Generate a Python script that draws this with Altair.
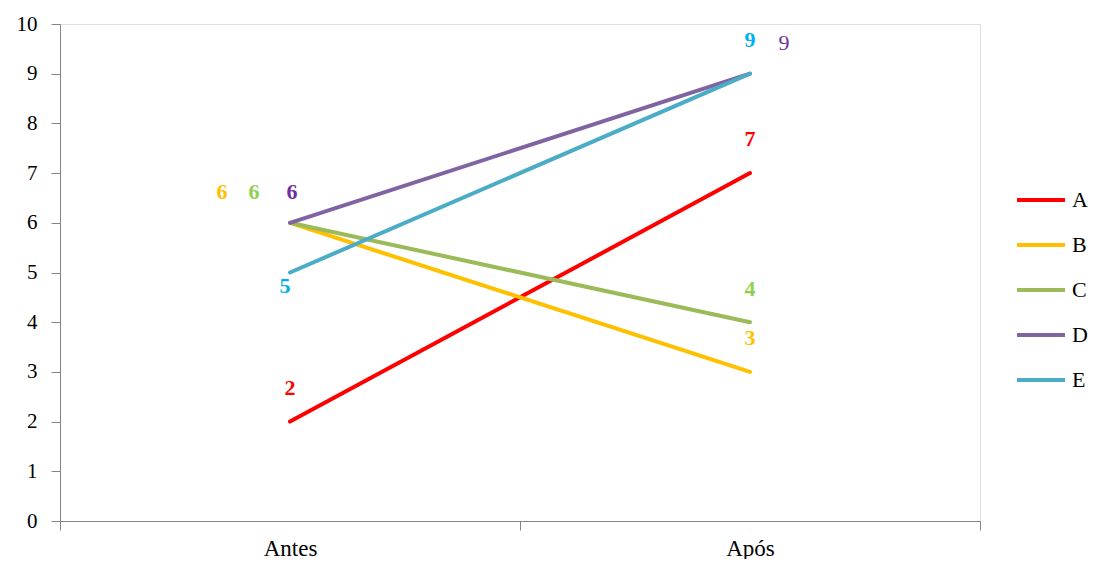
import altair as alt
import pandas as pd

series = ["A", "B", "C", "D", "E"]
categories = ["Antes", "Após"]
antes = [2, 6, 6, 6, 5]
apos = [7, 3, 4, 9, 9]
line_colors = ["#FF0000", "#FFC000", "#9BBB59", "#8064A2", "#4BACC6"]
label_colors = ["#FF0000", "#FFC000", "#92D050", "#7030A0", "#00B0F0"]

rows = []
for s, a, p in zip(series, antes, apos):
    rows.append({"serie": s, "momento": categories[0], "valor": a})
    rows.append({"serie": s, "momento": categories[1], "valor": p})
df = pd.DataFrame(rows)

FONT = "Liberation Serif"

x_enc = alt.X("momento:N", sort=categories,
              scale=alt.Scale(paddingInner=0, paddingOuter=0),
              axis=alt.Axis(title=None, labelAngle=0, tickBand="extent",
                            labelFont=FONT, labelFontSize=23, labelColor="#000",
                            domainColor="#868686", tickColor="#868686",
                            tickSize=9, labelPadding=7, grid=False))
y_enc = alt.Y("valor:Q", scale=alt.Scale(domain=[0, 10], nice=False),
              axis=alt.Axis(title=None, values=list(range(0, 11)),
                            labelFont=FONT, labelFontSize=21, labelColor="#000",
                            domainColor="#868686", tickColor="#868686",
                            tickSize=9, labelPadding=14, grid=False))

lines = alt.Chart(df).mark_line(strokeWidth=4, strokeCap="round").encode(
    x=x_enc, y=y_enc,
    color=alt.Color("serie:N", sort=series,
                    scale=alt.Scale(domain=series, range=line_colors),
                    legend=alt.Legend(title=None, orient="none",
                                      legendX=955, legendY=150,
                                      symbolType="stroke", symbolStrokeWidth=4,
                                      symbolSize=2300, labelFont=FONT,
                                      labelFontSize=22, labelColor="#000",
                                      rowPadding=8, labelOffset=5)),
    detail="serie:N",
)

# label placement (pixel offsets from each point), per series and moment
label_specs = [
    ("A", "Antes", 0, -34, "bold"),
    ("B", "Antes", -68, -31, "bold"),
    ("C", "Antes", -36, -31, "bold"),
    ("D", "Antes", 2, -31, "bold"),
    ("E", "Antes", -5, 13, "bold"),
    ("A", "Após", 0, -34, "bold"),
    ("B", "Após", 0, -34, "bold"),
    ("C", "Após", 0, -33, "bold"),
    ("D", "Após", 34, -31, "normal"),
    ("E", "Após", 0, -34, "bold"),
]

layers = [lines]
for s, m, dx, dy, w in label_specs:
    col = label_colors[series.index(s)]
    t = alt.Chart(df).transform_filter(
        (alt.datum.serie == s) & (alt.datum.momento == m)
    ).mark_text(font=FONT, fontSize=22, fontWeight=w, color=col,
                dx=dx, dy=dy, baseline="middle", align="center").encode(
        x=alt.X("momento:N", sort=categories),
        y=alt.Y("valor:Q"),
        text=alt.Text("valor:Q"),
    )
    layers.append(t)

chart = alt.layer(*layers).properties(
    width=920, height=497,
    autosize=alt.AutoSizeParams(type="none"),
    padding={"left": 52, "top": 16, "right": 113, "bottom": 38},
).configure_view(stroke=None).configure(background="white")

chart.save("out.html", embed_options={"renderer": "svg", "actions": False})
